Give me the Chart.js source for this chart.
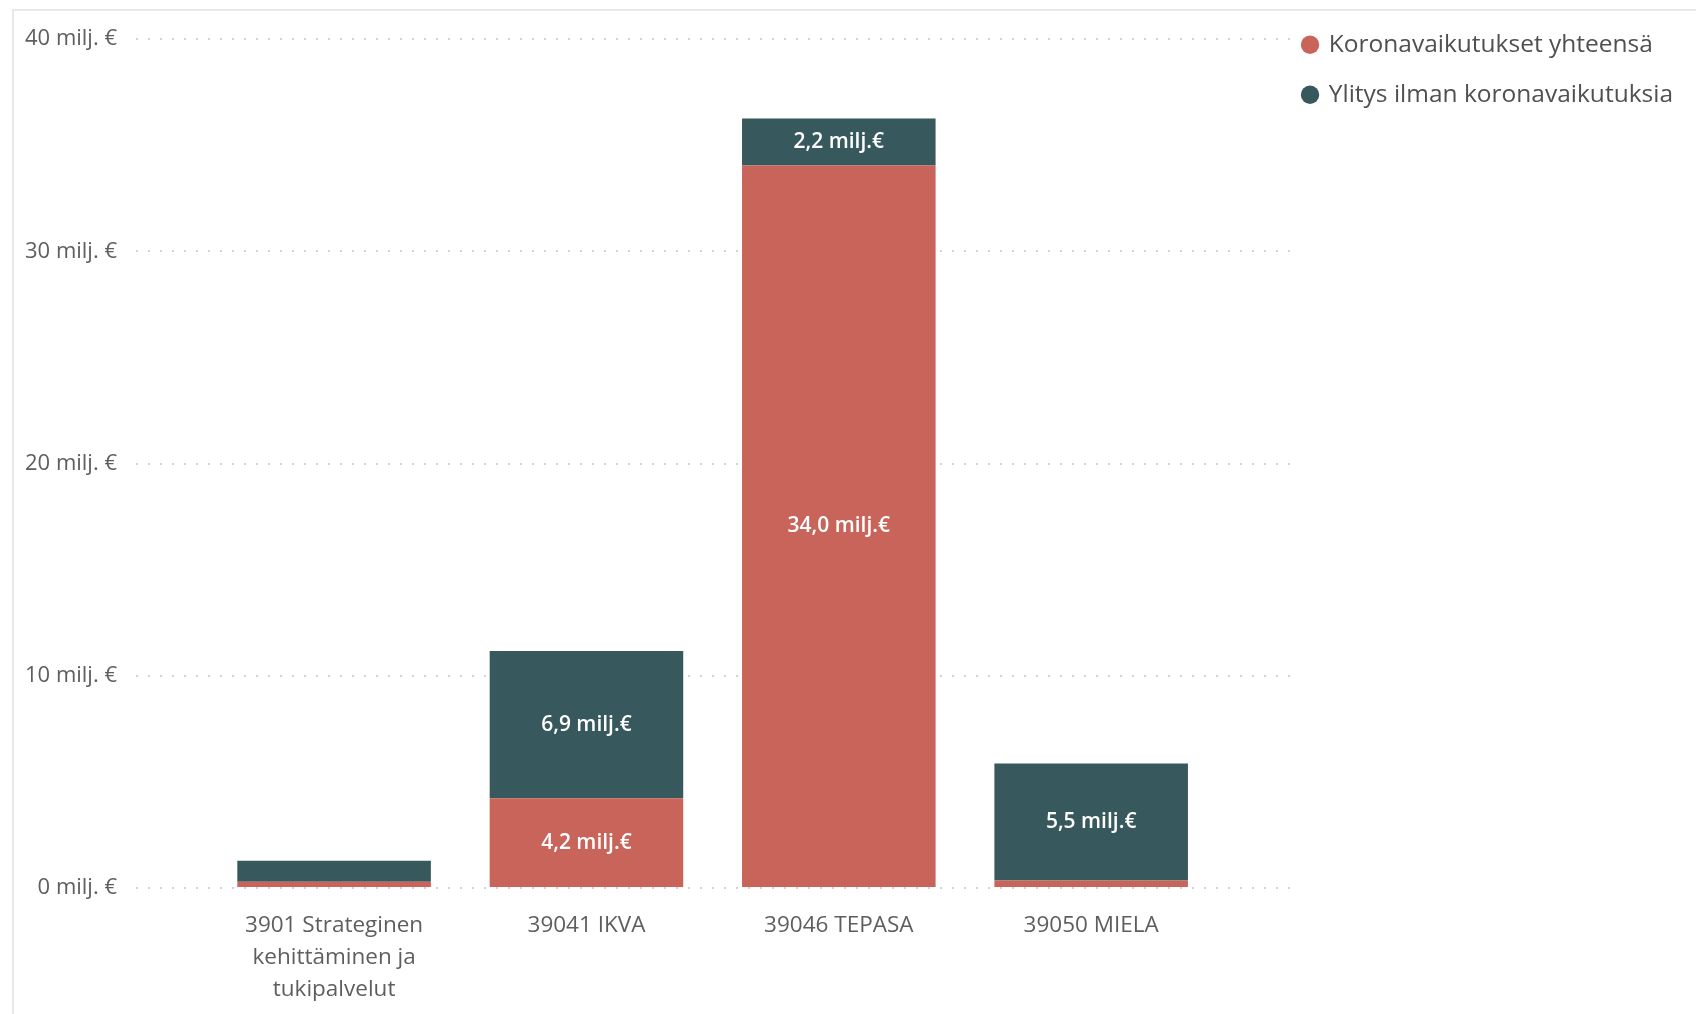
<!DOCTYPE html>
<html>
<head>
<meta charset="utf-8">
<script src="https://cdn.jsdelivr.net/npm/chart.js@4/dist/chart.umd.min.js"></script>
<style>
  html, body { margin: 0; padding: 0; background: #fff; }
  #wrap { position: relative; width: 1696px; height: 1014px; }
  #frame { position: absolute; left: 12px; top: 9px; right: -4px; bottom: -4px; border-left: 2px solid #e8e8e8; border-top: 2px solid #e8e8e8; }
  canvas { position: absolute; left: 0; top: 0; }
</style>
</head>
<body>
<div id="wrap">
  <div id="frame"></div>
  <canvas id="chart" width="1696" height="1014"></canvas>
</div>
<script>
// data (milj. €)
const categories = [['3901 Strateginen', 'kehittäminen ja', 'tukipalvelut'], '39041 IKVA', '39046 TEPASA', '39050 MIELA'];
const koronaValues = [0.3, 4.23, 34.04, 0.35];
const ylitysValues = [0.98, 6.94, 2.22, 5.52];
const seriesNames = ['Koronavaikutukset yhteensä', 'Ylitys ilman koronavaikutuksia'];
const yTicks = [0, 10, 20, 30, 40];

const RED = '#C8645A';
const TEAL = '#37585C';
const FONT = '"Open Sans", "Noto Sans", sans-serif';

const fmt = v => v.toFixed(1).replace('.', ',') + ' milj.€';

const segmentLabels = {
  id: 'segmentLabels',
  afterDatasetsDraw(chart) {
    const ctx = chart.ctx;
    ctx.save();
    ctx.font = '600 21px ' + FONT;
    ctx.fillStyle = '#fff';
    ctx.textAlign = 'center';
    ctx.textBaseline = 'middle';
    chart.data.datasets.forEach((ds, di) => {
      chart.getDatasetMeta(di).data.forEach((bar, i) => {
        const v = ds.data[i].y;
        if (v < 1) return;
        const { x, y, base } = bar.getProps(['x', 'y', 'base'], true);
        ctx.fillText(fmt(v), x, (y + base) / 2);
      });
    });
    ctx.restore();
  }
};

const toPoints = arr => arr.map((v, i) => ({ x: i, y: v }));

new Chart(document.getElementById('chart'), {
  type: 'bar',
  data: {
    datasets: [
      { label: seriesNames[0], data: toPoints(koronaValues), backgroundColor: RED, borderWidth: 0 },
      { label: seriesNames[1], data: toPoints(ylitysValues), backgroundColor: TEAL, borderWidth: 0 }
    ]
  },
  options: {
    responsive: false,
    animation: false,
    layout: { padding: { top: 22, left: 14, right: 13, bottom: -14 } },
    datasets: { bar: { barPercentage: 0.767, categoryPercentage: 1 } },
    plugins: {
      tooltip: { enabled: false },
      legend: {
        position: 'right',
        align: 'start',
        labels: {
          usePointStyle: true,
          pointStyle: 'circle',
          boxWidth: 13,
          boxHeight: 13,
          padding: 10.5,
          color: '#505050',
          font: { family: FONT, size: 24.5, lineHeight: '39.5px' },
          // one-line arrays so the item height follows lineHeight
          generateLabels: chart => Chart.defaults.plugins.legend.labels.generateLabels(chart).map(l => ({ ...l, text: [l.text] }))
        }
      }
    },
    scales: {
      x: {
        type: 'linear',
        offset: false,
        stacked: true,
        min: -0.785,
        max: 3.8,
        grid: { display: false, drawTicks: false, offset: false },
        border: { display: false },
        ticks: {
          stepSize: 1,
          autoSkip: false,
          maxRotation: 0,
          padding: 22,
          color: '#605E5C',
          font: { family: FONT, size: 22.5, lineHeight: '32px' },
          callback: v => (Number.isInteger(v) && categories[v] !== undefined) ? categories[v] : null
        }
      },
      y: {
        stacked: true,
        min: 0,
        max: 40,
        afterFit: scale => { scale.width = 122; },
        grid: { color: '#d2d2d2', lineWidth: 2, drawTicks: false },
        border: { display: false, dash: [2, 10] },
        ticks: {
          stepSize: 10,
          padding: 19,
          color: '#605E5C',
          font: { family: FONT, size: 22, lineHeight: '40px' },
          callback: v => yTicks.includes(v) ? v + ' milj. €' : null
        }
      }
    }
  },
  plugins: [segmentLabels]
});
</script>
</body>
</html>
